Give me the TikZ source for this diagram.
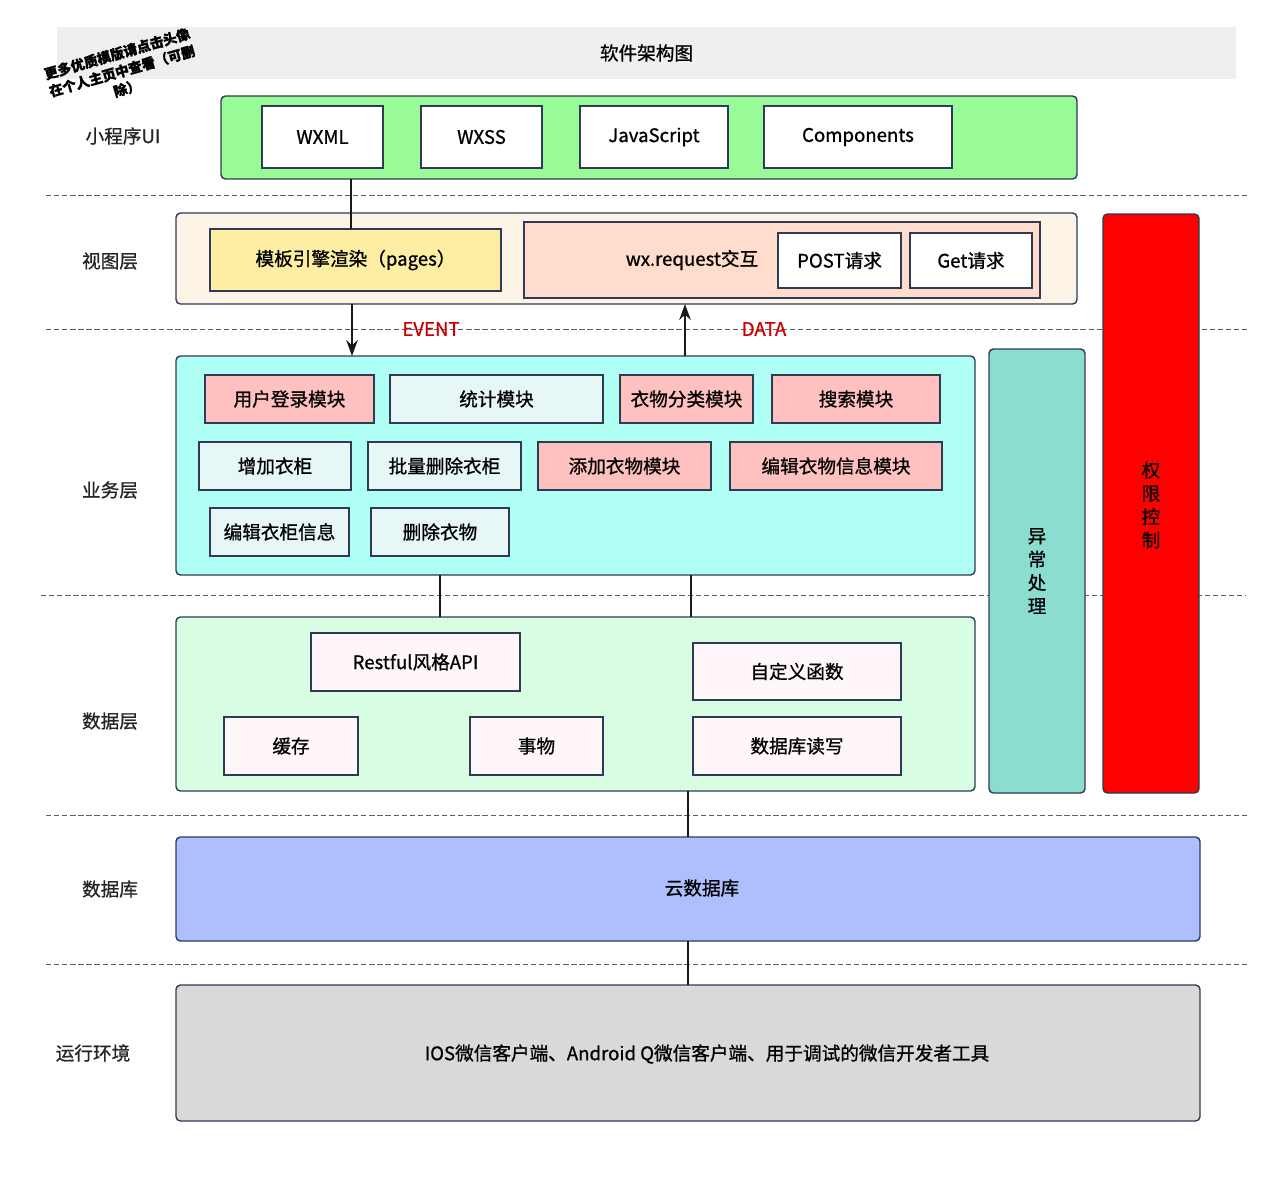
\documentclass[tikz,border=0pt]{standalone}
\usepackage{fontspec}
\setmainfont{Noto Sans CJK SC}[FakeBold=0.9]
\usetikzlibrary{arrows.meta}
\definecolor{bordc}{HTML}{2E3A56}
\definecolor{titlebg}{HTML}{EFEFEF}
\definecolor{uigreen}{HTML}{98FB98}
\definecolor{viewbg}{HTML}{FDF3E7}
\definecolor{tplyellow}{HTML}{FDEEA4}
\definecolor{reqpeach}{HTML}{FFDCCB}
\definecolor{bizcyan}{HTML}{AFFFF4}
\definecolor{modpink}{HTML}{FFC0C0}
\definecolor{modlight}{HTML}{E6F7F5}
\definecolor{errteal}{HTML}{8ADDCF}
\definecolor{datagreen}{HTML}{D8FDE2}
\definecolor{datawhite}{HTML}{FFF6FA}
\definecolor{cloudblue}{HTML}{AFBFFE}
\definecolor{rungray}{HTML}{D9D9D9}
\definecolor{evred}{HTML}{CC0000}
\definecolor{dashc}{HTML}{5A5F6E}
\newcommand\pbox[7]{\node[#1,minimum width={(#4-#2)*0.02cm},minimum height={(#5-#3)*0.02cm},inner sep=0pt,outer sep=0pt] (#6) at ({(#2+#4)/2},{(#3+#5)/2}) {#7};}
\begin{document}
\begin{tikzpicture}[x=0.02cm,y=-0.02cm,font=\fontsize{10.6pt}{13pt}\selectfont,
  frame/.style={draw=bordc,line width=0.8pt,rounded corners=2.5pt},
  inner/.style={draw=bordc,line width=0.6pt},
  layerlabel/.style={text=black!85},
  sep/.style={draw=dashc,dash pattern=on 3pt off 1.6pt,line width=0.5pt},
  link/.style={draw=black!90,line width=1.5pt},
  arr/.style={draw=black!90,line width=1.5pt,-{Stealth[length=9pt,width=6.5pt]}},
  evlabel/.style={text=evred}]
\useasboundingbox (0,0) rectangle (1279,1200);
% title
\pbox{fill=titlebg}{57}{27}{1236}{79}{title}{软件架构图}
\node[rotate=16,font=\fontsize{7.8pt}{10.2pt}\selectfont\bfseries,align=center] (note) at (122,71) {更多优质模版请点击头像\\在个人主页中查看（可删\\除）};
% separators
\coordinate (s1a) at (46,195); \coordinate (s1b) at (1250,195);
\coordinate (s2a) at (46,329); \coordinate (s2b) at (1250,329);
\coordinate (s3a) at (41,595); \coordinate (s3b) at (1246,595);
\coordinate (s4a) at (46,815); \coordinate (s4b) at (1250,815);
\coordinate (s5a) at (46,964); \coordinate (s5b) at (1250,964);
\draw[sep] (s1a) -- (s1b);
\draw[sep] (s2a) -- (s2b);
\draw[sep] (s3a) -- (s3b);
\draw[sep] (s4a) -- (s4b);
\draw[sep] (s5a) -- (s5b);
% layer labels
\node[layerlabel] (lUI) at (123,136) {小程序UI};
\node[layerlabel] (lView) at (110,261) {视图层};
\node[layerlabel] (lBiz) at (110,490) {业务层};
\node[layerlabel] (lData) at (110,721) {数据层};
\node[layerlabel] (lDB) at (110,889) {数据库};
\node[layerlabel] (lRun) at (93,1053) {运行环境};
% UI layer
\pbox{frame,fill=uigreen}{221}{96}{1077}{179}{ui}{}
\pbox{inner,fill=white}{262}{106}{383}{168}{wxml}{WXML}
\pbox{inner,fill=white}{421}{106}{542}{168}{wxss}{WXSS}
\pbox{inner,fill=white}{580}{106}{728}{168}{js}{JavaScript}
\pbox{inner,fill=white}{764}{106}{952}{168}{comp}{Components}
% view layer
\pbox{frame,fill=viewbg}{176}{213}{1077}{304}{view}{}
\pbox{inner,fill=tplyellow}{210}{229}{501}{291}{tpl}{模板引擎渲染（pages）}
\pbox{inner,fill=reqpeach}{524}{222}{1040}{298}{req}{}
\node (reqtxt) at (692,260) {wx.request交互};
\pbox{inner,fill=white}{778}{233}{901}{288}{post}{POST请求}
\pbox{inner,fill=white}{910}{233}{1032}{288}{get}{Get请求}
% business layer
\pbox{frame,fill=bizcyan}{176}{356}{975}{575}{biz}{}
\pbox{inner,fill=modpink}{205}{375}{374}{423}{m1}{用户登录模块}
\pbox{inner,fill=modlight}{390}{375}{603}{423}{m2}{统计模块}
\pbox{inner,fill=modpink}{620}{375}{753}{423}{m3}{衣物分类模块}
\pbox{inner,fill=modpink}{772}{375}{940}{423}{m4}{搜索模块}
\pbox{inner,fill=modlight}{199}{442}{351}{490}{m5}{增加衣柜}
\pbox{inner,fill=modlight}{368}{442}{521}{490}{m6}{批量删除衣柜}
\pbox{inner,fill=modpink}{538}{442}{711}{490}{m7}{添加衣物模块}
\pbox{inner,fill=modpink}{730}{442}{942}{490}{m8}{编辑衣物信息模块}
\pbox{inner,fill=modlight}{210}{508}{349}{556}{m9}{编辑衣柜信息}
\pbox{inner,fill=modlight}{371}{508}{509}{556}{m10}{删除衣物}
% side bars
\pbox{frame,fill=errteal}{989}{349}{1085}{793}{err}{}
\node[align=center,font=\fontsize{10.6pt}{13.3pt}\selectfont] (errtxt) at (1037,571) {异\\常\\处\\理};
\pbox{frame,fill=red}{1103}{214}{1199}{793}{perm}{}
\node[align=center,font=\fontsize{10.6pt}{13.3pt}\selectfont] (permtxt) at (1151,505) {权\\限\\控\\制};
% data layer
\pbox{frame,fill=datagreen}{176}{617}{975}{791}{data}{}
\pbox{inner,fill=datawhite}{311}{633}{520}{691}{api}{Restful风格API}
\pbox{inner,fill=datawhite}{693}{643}{901}{700}{func}{自定义函数}
\pbox{inner,fill=datawhite}{224}{717}{358}{775}{cache}{缓存}
\pbox{inner,fill=datawhite}{470}{717}{603}{775}{tx}{事物}
\pbox{inner,fill=datawhite}{693}{717}{901}{775}{rw}{数据库读写}
% db
\pbox{frame,fill=cloudblue}{176}{837}{1200}{941}{cloud}{}
\node (cloudtxt) at (702,888) {云数据库};
% runtime
\pbox{frame,fill=rungray}{176}{985}{1200}{1121}{run}{}
\node (runtxt) at (707,1054) {IOS微信客户端、Android Q微信客户端、用于调试的微信开发者工具};
% connectors
\draw[link] (ui.south -| 351,0) -- (tpl.north -| 351,0);
\draw[arr] (view.south -| 352,0) -- (biz.north -| 352,0);
\draw[arr] (biz.north -| 685,0) -- (view.south -| 685,0);
\node[evlabel] (ev) at (431,329) {EVENT};
\node[evlabel] (da) at (764,329) {DATA};
\draw[link] (biz.south -| 440,0) -- (data.north -| 440,0);
\draw[link] (biz.south -| 691,0) -- (data.north -| 691,0);
\draw[link] (data.south -| 688,0) -- (cloud.north -| 688,0);
\draw[link] (cloud.south -| 688,0) -- (run.north -| 688,0);
\end{tikzpicture}
\end{document}
